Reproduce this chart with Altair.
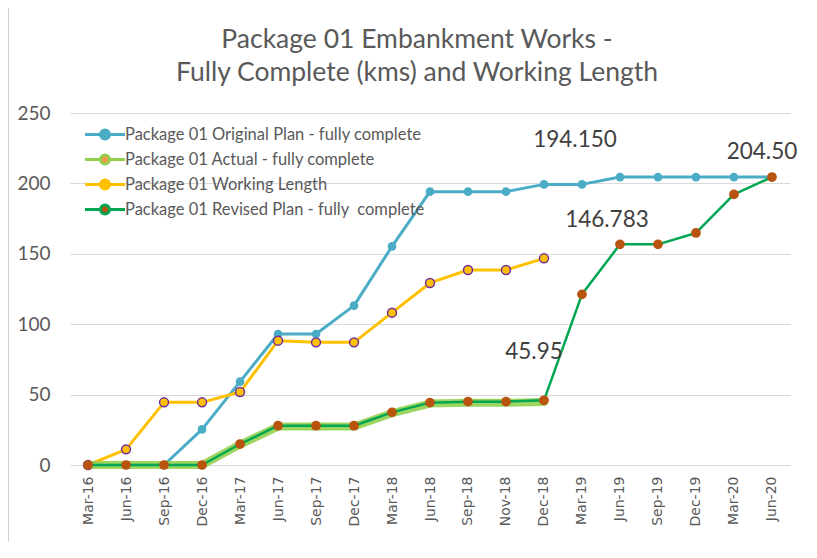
import altair as alt
import pandas as pd

months = ["Mar-16", "Jun-16", "Sep-16", "Dec-16", "Mar-17", "Jun-17", "Sep-17", "Dec-17",
          "Mar-18", "Jun-18", "Sep-18", "Nov-18", "Dec-18", "Mar-19", "Jun-19", "Sep-19",
          "Dec-19", "Mar-20", "Jun-20"]

S_ORIG = "Package 01 Original Plan - fully complete"
S_ACT = "Package 01 Actual - fully complete"
S_WL = "Package 01 Working Length"
S_REV = "Package 01 Revised Plan - fully\u00a0 complete"
series_names = [S_ORIG, S_ACT, S_WL, S_REV]

original_plan = [0, 0, 0, 25.3, 59.2, 93.0, 93.0, 113.2, 155.3, 194.15, 194.15, 194.15,
                 199.3, 199.3, 204.5, 204.5, 204.5, 204.5, 204.5]
actual = [0, 0, 0, 0, 14.5, 27.3, 27.3, 27.3, 36.8, 43.6, 44.2, 44.2, 44.8]
working_length = [0, 11.1, 44.5, 44.5, 51.8, 88.3, 87.1, 87.1, 108.2, 129.3, 138.5, 138.5, 146.783]
revised_plan = [0, 0, 0, 0, 14.9, 27.9, 27.9, 27.9, 37.4, 44.3, 45.0, 45.0, 45.95,
                121.2, 156.7, 156.7, 164.8, 192.2, 204.5]

line_colors = ["#4BACC6", "#92D050", "#FFC000", "#00A651"]
marker_colors = ["#4BACC6", "#F79646", "#FFC000", "#B85410"]

labels_text = ["194.150", "146.783", "45.95", "204.50"]
labels_month = ["Mar-19", "Jun-19", "Dec-18", "Jun-20"]
labels_value = [231, 174, 80.3, 222.3]
labels_dx = [-7, -13, -10, -10]

rows = []
for name, vals in zip(series_names, [original_plan, actual, working_length, revised_plan]):
    for m, v in zip(months, vals):
        rows.append({"month": m, "value": v, "series": name})
df = pd.DataFrame(rows)

FONT = "Lato"
TXT = "#595959"

legend_path = ("M-1.6,0H-0.36M0.36,0H1.6"
               "M0.36,0A0.36,0.36,0,1,1,-0.36,0A0.36,0.36,0,1,1,0.36,0Z")

legend = alt.Legend(title=None, orient="none", legendX=21, legendY=7.5,
                    symbolType=legend_path, symbolSize=625, symbolStrokeWidth=3,
                    labelFont=FONT, labelFontSize=16.5, labelColor=TXT, labelOffset=6,
                    labelLimit=0, rowPadding=0, padding=0, symbolOpacity=1)

x_enc = alt.X("month:N", sort=months, title=None,
              scale=alt.Scale(type="point", padding=0.475),
              axis=alt.Axis(labelAngle=-90, labelFont="DejaVu Sans", labelFontSize=14,
                            labelColor=TXT, ticks=False, domainColor="#D9D9D9",
                            labelPadding=11, grid=False))
y_enc = alt.Y("value:Q", title=None,
              scale=alt.Scale(domain=[0, 250], nice=False),
              axis=alt.Axis(values=[0, 50, 100, 150, 200, 250], labelFont=FONT,
                            labelFontSize=19, labelColor=TXT, ticks=False, domain=False,
                            gridColor="#D9D9D9", labelPadding=20))

stroke_enc = alt.Stroke("series:N", scale=alt.Scale(domain=series_names, range=line_colors),
                        legend=legend)
fill_enc = alt.Fill("series:N", scale=alt.Scale(domain=series_names, range=marker_colors),
                    legend=legend)

base = alt.Chart(df)


def line(name, width, opacity=1.0):
    return base.transform_filter(alt.datum.series == name).mark_line(
        strokeWidth=width, opacity=opacity, strokeCap="round", strokeJoin="round"
    ).encode(x=x_enc, y=y_enc, stroke=stroke_enc)


def points(name, size, stroke=None):
    kw = dict(filled=True, size=size, opacity=1)
    if stroke:
        kw.update(stroke=stroke, strokeWidth=1.5)
    return base.transform_filter(alt.datum.series == name).mark_point(**kw).encode(
        x=x_enc, y=y_enc, fill=fill_enc)


frame_df = pd.DataFrame({"k": [0]})
border_top = alt.Chart(frame_df).mark_rule(color="#D0D0D0", strokeWidth=2).encode(
    x=alt.value(-62), x2=alt.value(760), y=alt.value(-108))
border_left = alt.Chart(frame_df).mark_rule(color="#D0D0D0", strokeWidth=2).encode(
    x=alt.value(-62), y=alt.value(-108), y2=alt.value(460))

layers = [
    border_top, border_left,
    line(S_ORIG, 3), points(S_ORIG, 75),
    line(S_WL, 3), points(S_WL, 80, "#7030A0"),
    line(S_ACT, 8, 0.9),
    line(S_REV, 2.5), points(S_REV, 95),
]

for t, m, v, dx in zip(labels_text, labels_month, labels_value, labels_dx):
    ldf = pd.DataFrame({"month": [m], "value": [v], "text": [t]})
    layers.append(alt.Chart(ldf).mark_text(font=FONT, fontSize=22.5, color="#404040", dx=dx)
                  .encode(x=x_enc, y=y_enc, text="text:N"))

chart = alt.layer(*layers).properties(
    width=720, height=352,
    title=alt.TitleParams(["Package 01 Embankment Works -", "Fully Complete (kms) and Working Length"],
                          font=FONT, fontSize=26.5, fontWeight="normal", color=TXT,
                          lineHeight=33, offset=22, dy=104, dx=-13),
    padding={"left": 62, "top": 105, "right": 19, "bottom": 77},
    autosize=alt.AutoSizeParams(type="none"),
).configure_view(stroke=None)

chart.save("out.html", embed_options={"renderer": "svg", "actions": False})
